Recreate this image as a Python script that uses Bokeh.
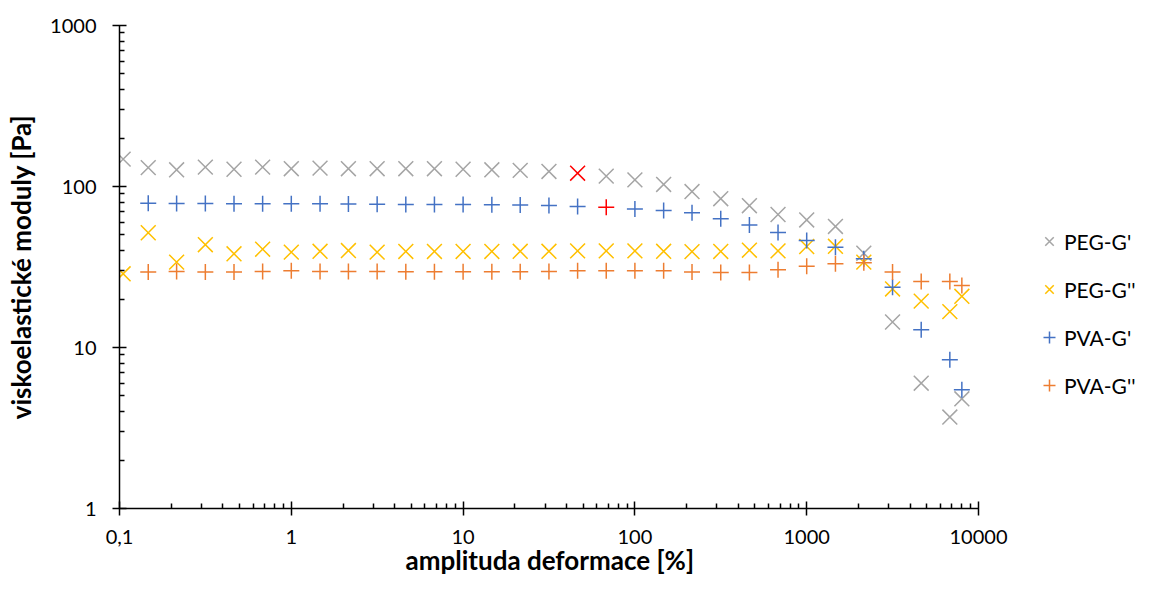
from bokeh.plotting import figure
from bokeh.models import (ColumnDataSource, Range1d, FixedTicker, Legend, LegendItem, Title)
from bokeh.embed import file_html
from bokeh.resources import INLINE

# ---------------- data ----------------
x_peg = [0.105, 0.147, 0.215, 0.316, 0.464, 0.681, 1.0, 1.47, 2.15, 3.16, 4.64, 6.81,
         10.0, 14.7, 21.5, 31.6, 46.4, 68.1, 100.0, 147.0, 215.0, 316.0, 464.0, 681.0,
         1000.0, 1470.0, 2150.0, 3160.0, 4640.0, 6810.0, 8000.0]
peg_g1 = [148, 131, 127, 132, 128, 132, 129, 130, 129, 129, 129, 129,
          128, 127, 126, 124, 121, 116, 110, 103, 93, 84, 76, 67,
          62, 56.5, 38.5, 14.4, 6.0, 3.7, 4.8]
peg_g2 = [28.7, 51.6, 33.9, 43.5, 38.2, 40.8, 39.1, 39.6, 40.0, 39.1, 39.5, 39.5,
          39.5, 39.5, 39.6, 39.6, 39.8, 39.8, 39.8, 39.6, 39.4, 39.5, 40.2, 39.8,
          42.4, 42.5, 33.9, 23.1, 19.4, 16.7, 20.8]

x_pva = [0.147, 0.215, 0.316, 0.464, 0.681, 1.0, 1.47, 2.15, 3.16, 4.64, 6.81,
         10.0, 14.7, 21.5, 31.6, 46.4, 68.1, 100.0, 147.0, 215.0, 316.0, 464.0, 681.0,
         1000.0, 1470.0, 2150.0, 3160.0, 4640.0, 6810.0, 8000.0]
pva_g1 = [78.8, 78.5, 78.3, 78.0, 78.0, 78.0, 78.0, 77.8, 77.6, 77.3, 77.3,
          77.2, 77.0, 76.7, 76.2, 75.2, 74.4, 72.6, 71.0, 68.7, 63.0, 57.7, 51.8,
          46.2, 42.0, 35.6, 23.7, 12.9, 8.4, 5.46]
pva_g2 = [29.4, 29.7, 29.4, 29.4, 29.6, 30.0, 29.7, 29.7, 29.7, 29.5, 29.5,
          29.5, 29.5, 29.5, 29.7, 30.0, 30.0, 30.0, 30.0, 29.4, 29.2, 29.2, 30.4,
          32.0, 33.1, 33.6, 29.4, 25.7, 25.7, 24.3]

series_names = ["PEG-G'", "PEG-G''", "PVA-G'", "PVA-G''"]
highlight_peg_g1 = 46.4   # point drawn in red
highlight_pva_g1 = 68.1   # point drawn in red

x_ticks = [0.1, 1, 10, 100, 1000, 10000]
x_tick_labels = ["0,1", "1", "10", "100", "1000", "10000"]
y_ticks = [1, 10, 100, 1000]
y_tick_labels = ["1", "10", "100", "1000"]

x_title = "amplituda deformace [%]"
y_title = "viskoelastické moduly [Pa]"

# ---------------- styles / layout ----------------
GREY = "#A5A5A5"
YELLOW = "#FFC000"
BLUE = "#4472C4"
ORANGE = "#ED7D31"
RED = "#FF0000"
FONT = "Lato"

W, H = 1138, 576
LEFT, TOP, BOTTOM = 119, 25, 68
AXIS_LEN = 859                      # pixel length of the drawn x axis (0.1 .. 10000)
FRAME_W = W - LEFT                  # frame extends to the right edge to host the legend
x_lo, x_hi = x_ticks[0], x_ticks[-1]
x_end = x_lo * (x_hi / x_lo) ** (FRAME_W / AXIS_LEN)

p = figure(width=W, height=H, x_axis_type="log", y_axis_type="log",
           x_range=Range1d(x_lo, x_end), y_range=Range1d(y_ticks[0], y_ticks[-1]),
           output_backend="svg", toolbar_location=None,
           min_border_left=LEFT, min_border_right=0,
           min_border_top=TOP, min_border_bottom=BOTTOM)
p.outline_line_color = None
p.xgrid.visible = False
p.ygrid.visible = False
p.background_fill_color = "white"
p.border_fill_color = "white"

def minor(decades):
    return [d * m for d in decades for m in range(2, 10)]

p.xaxis.ticker = FixedTicker(ticks=x_ticks, minor_ticks=minor(x_ticks[:-1]))
p.yaxis.ticker = FixedTicker(ticks=y_ticks, minor_ticks=minor(y_ticks[:-1]))
p.xaxis.major_label_overrides = {float(t): l for t, l in zip(x_ticks, x_tick_labels)}
p.yaxis.major_label_overrides = {float(t): l for t, l in zip(y_ticks, y_tick_labels)}
p.xaxis.bounds = (x_lo, x_hi)

for ax in (p.xaxis, p.yaxis):
    ax.axis_line_color = "black"
    ax.axis_line_width = 1.5
    ax.major_tick_line_color = "black"
    ax.major_tick_line_width = 1.5
    ax.minor_tick_line_color = "black"
    ax.minor_tick_line_width = 1.5
    ax.major_tick_in = 7
    ax.major_tick_out = 7
    ax.minor_tick_in = 5
    ax.minor_tick_out = 0
    ax.major_label_text_font = FONT
    ax.major_label_text_font_size = "20px"
    ax.major_label_text_color = "black"
    ax.axis_label_text_font = FONT
    ax.axis_label_text_font_size = "26px"
    ax.axis_label_text_font_style = "bold"
    ax.axis_label_text_color = "black"

p.yaxis.axis_label = y_title
p.xaxis.major_label_standoff = 14
p.yaxis.major_label_standoff = 16
p.yaxis.axis_label_standoff = 10

# x-axis title as a Title below the axis, centred on the drawn axis
TITLE_W_EST = 287
p.add_layout(Title(text=x_title, align="left", offset=AXIS_LEN / 2 - TITLE_W_EST / 2,
                   vertical_align="bottom", standoff=-10,
                   text_font=FONT, text_font_size="26px", text_font_style="bold",
                   text_color="black"), "below")

def colors(xs, base, hx=None):
    return [RED if (hx is not None and abs(x - hx) < 1e-9) else base for x in xs]

src1 = ColumnDataSource(dict(x=x_peg, y=peg_g1, c=colors(x_peg, GREY, highlight_peg_g1)))
src2 = ColumnDataSource(dict(x=x_peg, y=peg_g2, c=colors(x_peg, YELLOW)))
src3 = ColumnDataSource(dict(x=x_pva, y=pva_g1, c=colors(x_pva, BLUE, highlight_pva_g1)))
src4 = ColumnDataSource(dict(x=x_pva, y=pva_g2, c=colors(x_pva, ORANGE)))

r1 = p.scatter("x", "y", source=src1, marker="x", size=21, line_color="c", line_width=1.5)
r2 = p.scatter("x", "y", source=src2, marker="x", size=21, line_color="c", line_width=1.5)
r3 = p.scatter("x", "y", source=src3, marker="cross", size=16, line_color="c", line_width=1.5)
r4 = p.scatter("x", "y", source=src4, marker="cross", size=16, line_color="c", line_width=1.5)

legend = Legend(items=[LegendItem(label=n, renderers=[r], index=0)
                       for n, r in zip(series_names, [r1, r2, r3, r4])],
                location=(915, 107), orientation="vertical",
                glyph_width=30, glyph_height=32, label_height=32,
                spacing=16, padding=0, margin=0, label_standoff=0,
                border_line_color=None, background_fill_alpha=0,
                label_text_font=FONT, label_text_font_size="21px",
                label_text_color="black")
p.add_layout(legend, "center")

open("out.html", "w").write(file_html(p, INLINE))
